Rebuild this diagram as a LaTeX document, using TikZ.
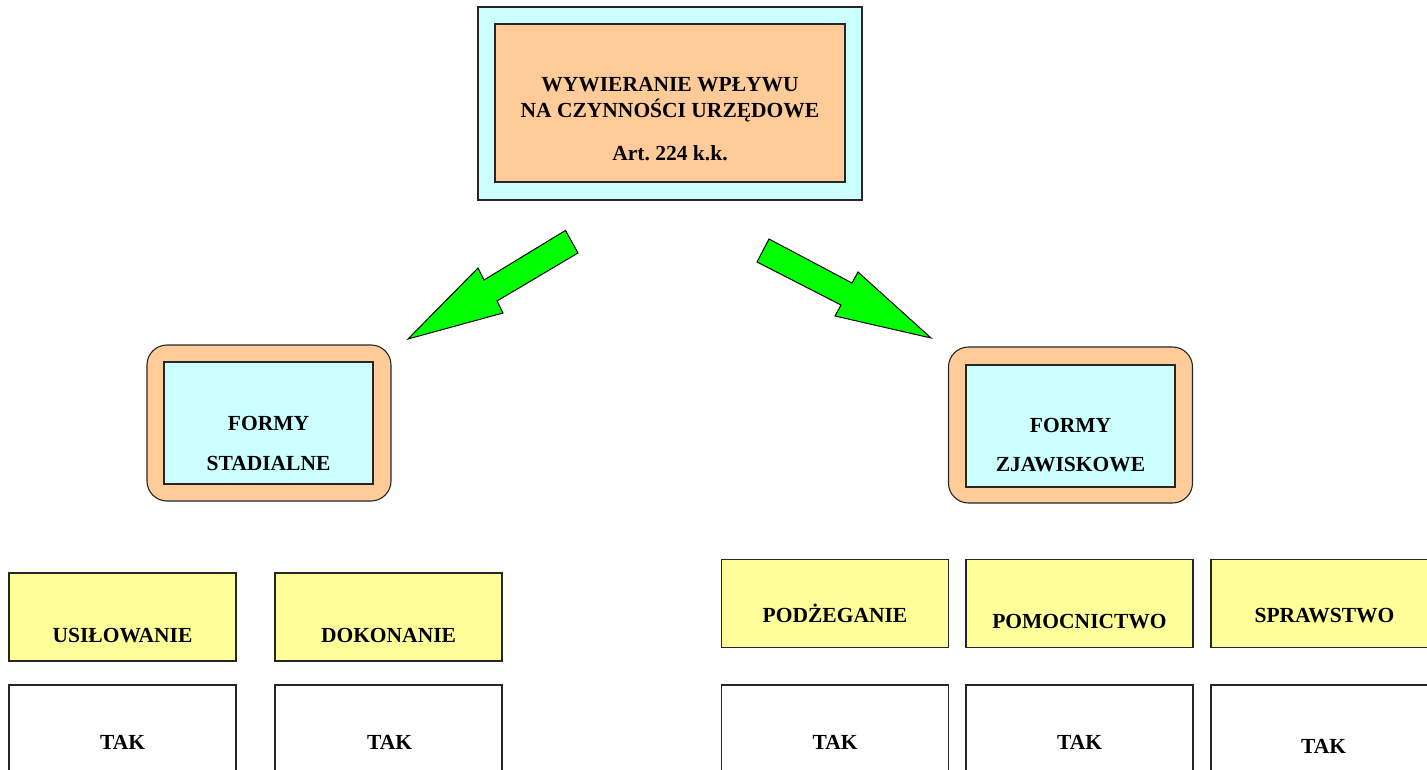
\documentclass[tikz,border=0pt]{standalone}
\usepackage{fontspec}
\setmainfont{Liberation Serif}
\usepackage{tikz}
\definecolor{lightcyan}{HTML}{CCFFFF}
\definecolor{peach}{HTML}{FFCC99}
\definecolor{lightyellow}{HTML}{FFFF99}
\definecolor{arrowgreen}{HTML}{00FF00}

\begin{document}
\begin{tikzpicture}[x=1pt,y=-1pt,
    every node/.style={font=\bfseries\fontsize{21.5}{26}\selectfont,inner sep=0pt,outer sep=0pt},
    frame/.style={draw=black!85,line width=1.1pt,rectangle},
    titleouter/.style={frame,fill=lightcyan,minimum width=384pt,minimum height=193pt},
    titleinner/.style={frame,fill=peach,minimum width=350pt,minimum height=158pt},
    formouter/.style={frame,fill=peach,rounded corners=20pt,minimum width=244pt,minimum height=156pt},
    forminner/.style={frame,fill=lightcyan,minimum width=209pt,minimum height=122pt},
    stagebox/.style={frame,fill=lightyellow,minimum width=227pt,minimum height=88pt},
    answerbox/.style={frame,fill=white,minimum width=227pt,minimum height=115pt},
    arrowfill/.style={draw=black,line width=1pt,fill=arrowgreen,line join=miter}]
      \clip (0,0) rectangle (1427,770);
      % main box
      \draw
        (670,103.5) node[titleouter] (titleout) {}
        (670,103) node[titleinner] (titlein) {}
        (670,119.5) node[align=center] (title) {WYWIERANIE WPŁYWU\\NA CZYNNOŚCI URZĘDOWE\\[17pt]Art.~224 k.k.};
      % arrows
      \draw[arrowfill] (565.5,230.4) -- (578,253) -- (497,301) -- (503,313)
        -- (408,339) -- (478,268) -- (484,280) -- cycle;
      \draw[arrowfill] (769,239) -- (757,262) -- (841,305) -- (835,316)
        -- (931,338) -- (858,272) -- (852,283) -- cycle;
      % forms
      \draw
        (269,423) node[formouter] (stadout) {}
        (268.5,423) node[forminner] (stadin) {}
        (268.5,443) node[align=center] (stad) {FORMY\\[14pt]STADIALNE};
      \draw
        (1070.5,425) node[formouter] (zjawout) {}
        (1070.5,426) node[forminner] (zjawin) {}
        (1070.5,445.5) node[align=center] (zjaw) {FORMY\\[13pt]ZJAWISKOWE};
      % stages
      \draw
        (122.5,617) node[stagebox] (usil) {}
        (388.5,617) node[stagebox] (dokon) {}
        (835,603.5) node[stagebox] (podz) {}
        (1079.5,603.5) node[stagebox] (pomoc) {}
        (1324.5,603.5) node[stagebox] (spraw) {};
      \draw
        (122.5,642) node[anchor=base] (usiltxt) {USIŁOWANIE}
        (388.5,642) node[anchor=base] (dokontxt) {DOKONANIE}
        (835,622) node[anchor=base] (podztxt) {PODŻEGANIE}
        (1079.5,628) node[anchor=base] (pomoctxt) {POMOCNICTWO}
        (1324.5,622) node[anchor=base] (sprawtxt) {SPRAWSTWO};
      % answers
      \draw
        (122.5,742.5) node[answerbox] (usilans) {}
        (388.5,742.5) node[answerbox] (dokonans) {}
        (835,742.5) node[answerbox] (podzans) {}
        (1079.5,742.5) node[answerbox] (pomocans) {}
        (1324.5,742.5) node[answerbox] (sprawans) {};
      \draw
        (122.5,749) node[anchor=base] (usiltak) {TAK}
        (389.5,749) node[anchor=base] (dokontak) {TAK}
        (835,749) node[anchor=base] (podztak) {TAK}
        (1079.5,749) node[anchor=base] (pomoctak) {TAK}
        (1323.5,753) node[anchor=base] (sprawtak) {TAK};
    \end{tikzpicture}
\end{document}
